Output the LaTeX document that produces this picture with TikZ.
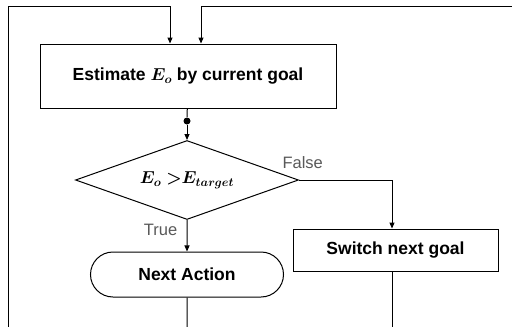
\documentclass[tikz,border=0pt]{standalone}
\usepackage{amsmath}
\usepackage{fontspec}
\setmainfont{Liberation Sans}
\usetikzlibrary{arrows.meta,shapes.geometric,shapes.misc}

\begin{document}
\begin{tikzpicture}[x=1pt,y=-1pt,line width=1pt,
  >={Triangle[length=6pt,width=5pt]},
  box/.style={draw,rectangle,inner sep=0pt,font=\fontsize{17.5}{20}\selectfont\bfseries\boldmath},
  lbl/.style={text=black!65,font=\fontsize{16.5}{19}\selectfont}]
 \fill[white] (0,0) rectangle (512,327);
 \useasboundingbox (0,0) rectangle (512,327);
 \node[box,minimum width=296pt,minimum height=64pt] (est) at (188,76) {Estimate $E_o$ by current goal};
 \node[circle,fill,inner sep=0pt,minimum size=7pt] (dot) at (187,121) {};
 \node[box,diamond,minimum width=223pt,minimum height=79pt,aspect=2.8] (cmp) at (187,180) {$E_o\ {>}E_{target}$};
 \node[box,rounded rectangle,minimum width=193pt,minimum height=45pt] (next) at (187,274.5) {Next Action};
 \node[box,minimum width=205pt,minimum height=42pt] (sw) at (395.5,250) {Switch next goal};
 \coordinate (lb) at (8,327);
 \coordinate (tl) at (170,6);
 \coordinate (tm) at (201,6);
 \coordinate (tr) at (512,6);
 \coordinate (nb) at (187,327);
 \coordinate (sb) at (392,327);
 \draw (est) -- (dot);
 \draw[->] (dot) -- (cmp);
 \draw[->] (cmp) -- node[lbl,left,pos=0.3,xshift=-6pt] {True} (next);
 \draw[->] (cmp.east) -| node[lbl,above,pos=0.02,yshift=8pt] {False} (sw.north -| sb);
 \draw (next) -- (nb);
 \draw (sw.south -| sb) -- (sb);
 \draw[->] (lb) |- (tl) -- (est.north -| tl);
 \draw[->] (tr) -- (tm) -- (est.north -| tm);
\end{tikzpicture}
\end{document}
